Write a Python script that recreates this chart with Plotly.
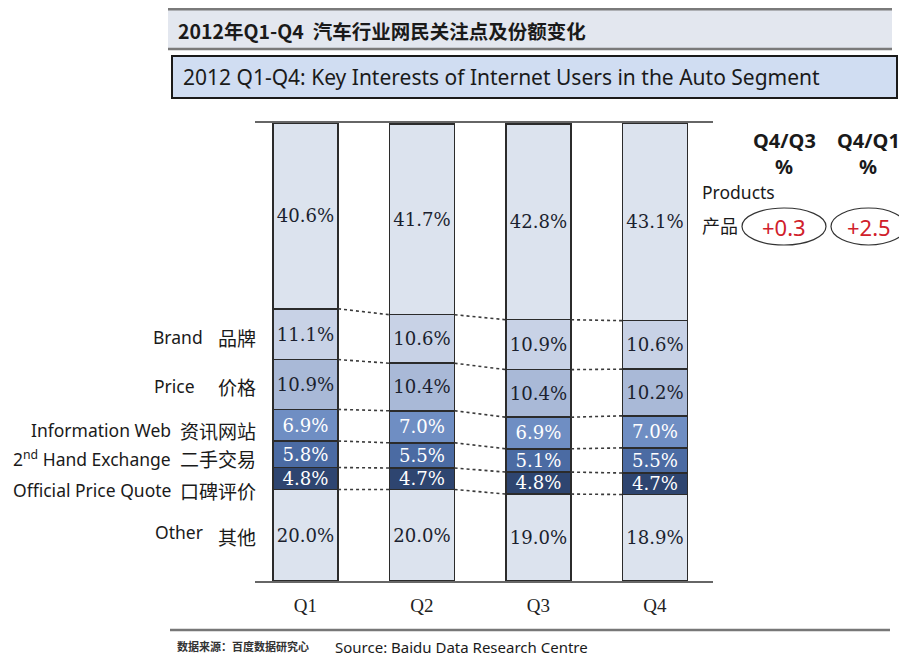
import plotly.graph_objects as go

quarters = ["Q1", "Q2", "Q3", "Q4"]
products = [40.6, 41.7, 42.8, 43.1]
brand = [11.1, 10.6, 10.9, 10.6]
price = [10.9, 10.4, 10.4, 10.2]
info_web = [6.9, 7.0, 6.9, 7.0]
second_hand = [5.8, 5.5, 5.1, 5.5]
price_quote = [4.8, 4.7, 4.8, 4.7]
other = [20.0, 20.0, 19.0, 18.9]

q4_q3 = "+0.3"
q4_q1 = "+2.5"

# page has an 8px body margin, so the figure is a bit smaller than the window
OFF = 8
W, H = 907 - OFF, 658 - OFF
L, T = 255 - OFF, 123 - OFF
PW, PH = 458, 458
R, B = W - L - PW, H - T - PH


def px(x, y):
    # screen pixel position -> paper coords
    return (x - OFF - L) / PW, (H - B - (y - OFF)) / PH


# stacked from bottom up
series = [
    ("Other", other, "#dce3ee", "#1b1f2e"),
    ("Official Price Quote", price_quote, "#2e4570", "white"),
    ("2nd Hand Exchange", second_hand, "#4b6ba3", "white"),
    ("Information Web", info_web, "#6f8ec3", "white"),
    ("Price", price, "#a9b9d7", "#1b1f2e"),
    ("Brand", brand, "#c8d2e6", "#1b1f2e"),
    ("Products", products, "#dce3ee", "#1b1f2e"),
]

xs = list(range(len(quarters)))
bw = 0.56

fig = go.Figure()
for name, vals, col, tcol in series:
    fig.add_trace(go.Bar(
        x=xs, y=vals, name=name, width=bw,
        marker=dict(color=col, line=dict(color="#2b2b2b", width=1.5)),
        text=[f"{v:.1f}%" for v in vals],
        textposition="inside", insidetextanchor="middle", textangle=0,
        textfont=dict(family="DejaVu Serif", size=18.5, color=tcol),
        hoverinfo="skip", showlegend=False,
    ))

# dotted connectors between bars at segment boundaries
cum = [0.0] * len(quarters)
for name, vals, col, tcol in series[:-1]:
    cum = [c + v for c, v in zip(cum, vals)]
    for i in range(len(quarters) - 1):
        fig.add_trace(go.Scatter(
            x=[xs[i] + bw / 2, xs[i + 1] - bw / 2], y=[cum[i], cum[i + 1]],
            mode="lines", line=dict(color="#3a3a3a", width=1.6, dash="dot"),
            hoverinfo="skip", showlegend=False,
        ))

shapes = []
annos = []


def note(x, y, text, size, family="Noto Sans", color="#1a1a1a", xanchor="center"):
    a, b = px(x, y)
    annos.append(dict(xref="paper", yref="paper", x=a, y=b, xanchor=xanchor, yanchor="middle",
                      text=text, showarrow=False,
                      font=dict(family=family, size=size, color=color)))


# header band
x0, y0 = px(168, 9)
x1, y1 = px(892, 49)
shapes.append(dict(type="rect", xref="paper", yref="paper", x0=x0, y0=y1, x1=x1, y1=y0,
                   fillcolor="#e3e7ef", line=dict(width=0), layer="below"))
shapes.append(dict(type="line", xref="paper", yref="paper", x0=x0, y0=y0, x1=x1, y1=y0,
                   line=dict(color="#7a7a7a", width=3)))
shapes.append(dict(type="line", xref="paper", yref="paper", x0=x0, y0=y1, x1=x1, y1=y1,
                   line=dict(color="#7a7a7a", width=2.5)))
note(176, 30, "<b>2012年Q1-Q4  汽车行业网民关注点及份额变化</b>", 19.5,
     family="Noto Sans CJK SC", xanchor="left")

# english title box
x0, y0 = px(172, 56)
x1, y1 = px(897, 98)
shapes.append(dict(type="rect", xref="paper", yref="paper", x0=x0, y0=y1, x1=x1, y1=y0,
                   fillcolor="#d0ddf2", line=dict(color="#1a1a1a", width=2)))
note(181, 77, "2012 Q1-Q4: Key Interests of Internet Users in the Auto Segment", 21,
     xanchor="left")

# left category labels: (english, chinese, y, english right edge)
left_labels = [
    ("Brand", "品牌", 337, 205),
    ("Price", "价格", 386, 197),
    ("Information Web", "资讯网站", 430, 173),
    ("2<sup>nd</sup> Hand Exchange", "二手交易", 459, 173),
    ("Official Price Quote", "口碑评价", 490, 173),
    ("Other", "其他", 532, 205),
]
for en, zh, y, xr in left_labels:
    note(xr, y, en, 17.5, xanchor="right")
    note(258, y + (4 if zh == "其他" else 0), zh, 19, family="Noto Sans CJK SC", xanchor="right")

# right side change boxes
for lab, cx in [("Q4/Q3", 784), ("Q4/Q1", 868)]:
    note(cx, 140, "<b>" + lab + "</b>", 20)
    note(cx, 166, "<b>%</b>", 20)
note(700, 192, "Products", 17.5, xanchor="left")
note(740, 225, "产品", 18, family="Noto Sans CJK SC", xanchor="right")
for val, cx, ex0, ex1 in [(q4_q3, 784, 742, 826), (q4_q1, 869, 831, 906)]:
    e0x, e0y = px(ex0, 208)
    e1x, e1y = px(ex1, 245)
    shapes.append(dict(type="circle", xref="paper", yref="paper", x0=e0x, y0=e1y, x1=e1x, y1=e0y,
                       line=dict(color="#333333", width=1.2)))
    note(cx, 227, val, 22, color="#d0202a")

# source footer
x0, y0 = px(170, 630)
x1, _ = px(890, 630)
shapes.append(dict(type="line", xref="paper", yref="paper", x0=x0, y0=y0, x1=x1, y1=y0,
                   line=dict(color="#777777", width=2.5)))
note(175, 646, "<b>数据来源：百度数据研究心</b>", 11, family="Noto Sans CJK SC",
     color="#333333", xanchor="left")
note(333, 647, "Source: Baidu Data Research Centre", 15, xanchor="left")

fig.update_layout(
    width=W, height=H,
    margin=dict(l=L, r=R, t=T, b=B),
    paper_bgcolor="white", plot_bgcolor="white",
    barmode="stack",
    uniformtext=dict(minsize=18, mode="show"),
    shapes=shapes, annotations=annos,
    xaxis=dict(range=[-0.433, 3.498], tickvals=xs, ticktext=quarters,
               showgrid=False, zeroline=False, showline=True, linecolor="#666666",
               linewidth=2, mirror=True, ticks="", ticklabelstandoff=6,
               tickfont=dict(family="Liberation Serif", size=19, color="#222222")),
    yaxis=dict(range=[0, 100.1], visible=False),
)

fig.write_html("out.html")
